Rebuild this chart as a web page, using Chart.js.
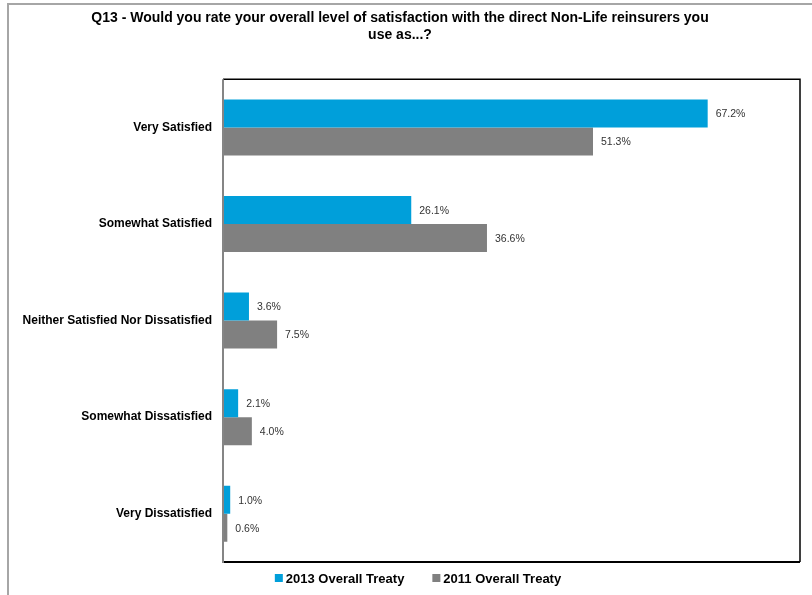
<!DOCTYPE html>
<html>
<head>
<meta charset="utf-8">
<title>Q13 satisfaction</title>
<script src="https://cdn.jsdelivr.net/npm/chart.js@4/dist/chart.umd.min.js"></script>
<style>
    html, body { margin: 0; padding: 0; background: #fff; }
    #wrap { position: relative; width: 812px; height: 595px; }
</style>
</head>
<body>
<div id="wrap"><canvas id="q13Chart" width="812" height="595"></canvas></div>
<script>
const categories = [
    "Very Satisfied",
    "Somewhat Satisfied",
    "Neither Satisfied Nor Dissatisfied",
    "Somewhat Dissatisfied",
    "Very Dissatisfied"
];
const treaty2013 = [67.2, 26.1, 3.6, 2.1, 1.0];
const treaty2011 = [51.3, 36.6, 7.5, 4.0, 0.6];
const seriesNames = ["2013 Overall Treaty", "2011 Overall Treaty"];
const titleLines = [
    "Q13 - Would you rate your overall level of satisfaction with the direct Non-Life reinsurers you",
    "use as...?"
];

const BLUE = "#009fda";
const GREY = "#808080";
const FONT = "'Liberation Sans', Arial, sans-serif";

// outer frame, plot box, value labels and the legend row
const decorations = {
    id: "decorations",
    beforeDraw(chart) {
        const ctx = chart.ctx;
        ctx.save();
        ctx.strokeStyle = "#a6a6a6";
        ctx.lineWidth = 2;
        ctx.beginPath();
        ctx.moveTo(8, 595);
        ctx.lineTo(8, 4);
        ctx.lineTo(812, 4);
        ctx.stroke();
        ctx.restore();
    },
    afterDatasetsDraw(chart) {
        const ctx = chart.ctx;
        const a = chart.chartArea;
        ctx.save();

        ctx.font = "10.5px " + FONT;
        ctx.fillStyle = "#333";
        ctx.textBaseline = "middle";
        ctx.textAlign = "left";
        chart.data.datasets.forEach((ds, i) => {
            chart.getDatasetMeta(i).data.forEach((bar, j) => {
                ctx.fillText(ds.data[j].toFixed(1) + "%", bar.x + 8, bar.y + 1);
            });
        });

        ctx.strokeStyle = "#000";
        ctx.lineWidth = 1.5;
        ctx.beginPath();
        ctx.moveTo(a.left, a.top);
        ctx.lineTo(a.right, a.top);
        ctx.lineTo(a.right, a.bottom);
        ctx.stroke();
        ctx.lineWidth = 2;
        ctx.beginPath();
        ctx.moveTo(a.left, a.bottom);
        ctx.lineTo(a.right, a.bottom);
        ctx.stroke();
        ctx.strokeStyle = "#858585";
        ctx.beginPath();
        ctx.moveTo(a.left, a.top);
        ctx.lineTo(a.left, a.bottom + 1);
        ctx.stroke();

        // legend
        ctx.font = "bold 13px " + FONT;
        ctx.fillStyle = "#000";
        const box = 8, gap = 3, spacing = 28;
        const widths = chart.data.datasets.map(ds => box + gap + ctx.measureText(ds.label).width);
        const total = widths.reduce((s, w) => s + w, 0) + spacing * (widths.length - 1);
        let x = 418 - total / 2;
        const y = 578;
        chart.data.datasets.forEach((ds, i) => {
            ctx.fillStyle = ds.backgroundColor;
            ctx.fillRect(x, y - box / 2, box, box);
            ctx.fillStyle = "#000";
            ctx.fillText(ds.label, x + box + gap, y + 1);
            x += widths[i] + spacing;
        });
        ctx.restore();
    }
};

new Chart(document.getElementById("q13Chart"), {
    type: "bar",
    data: {
        labels: categories,
        datasets: [
            { label: seriesNames[0], data: treaty2013, backgroundColor: BLUE },
            { label: seriesNames[1], data: treaty2011, backgroundColor: GREY }
        ]
    },
    options: {
        indexAxis: "y",
        responsive: false,
        animation: false,
        devicePixelRatio: 1,
        categoryPercentage: 0.58,
        barPercentage: 1,
        layout: { padding: { left: 0, right: 12, top: 0, bottom: 33 } },
        plugins: {
            legend: { display: false },
            tooltip: { enabled: false },
            title: {
                display: true,
                text: titleLines,
                color: "#000",
                font: { family: FONT, size: 14, weight: "bold", lineHeight: 1.22 },
                padding: { top: 10, bottom: 35 }
            }
        },
        scales: {
            x: { display: false, min: 0, max: 80 },
            y: {
                afterFit(scale) { scale.width = 223; },
                grid: { display: false, drawTicks: false },
                border: { display: false },
                ticks: {
                    padding: 11,
                    color: "#000",
                    font: { family: FONT, size: 12, weight: "bold" }
                }
            }
        }
    },
    plugins: [decorations]
});
</script>
</body>
</html>
